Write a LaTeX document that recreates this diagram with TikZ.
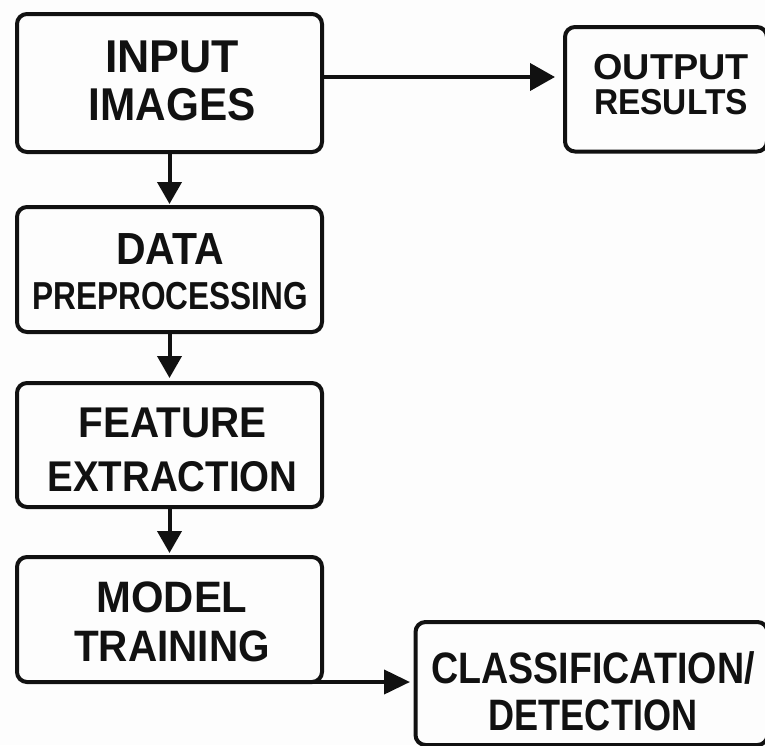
\documentclass[tikz,border=0pt]{standalone}
\usepackage{fontspec}
\setmainfont{Liberation Sans}
\usepackage{graphicx}
\usetikzlibrary{arrows.meta}
\definecolor{ink}{HTML}{111111}
\definecolor{paper}{HTML}{FDFDFD}
% horizontally condensed caption line
\newcommand\sx[2]{\scalebox{#1}[1]{#2}}
\begin{document}
\begin{tikzpicture}[x=1pt,y=-1pt,
  box/.style={draw=ink, line width=4pt, rounded corners=10pt, inner sep=0pt, outer sep=0pt},
  txt/.style={inner sep=0pt, outer sep=0pt, align=center, text=ink},
  flow/.style={draw=ink, line width=4pt, -{Triangle[length=22pt,width=24pt]}},
  side/.style={draw=ink, line width=4pt, -{Triangle[length=25pt,width=27pt]}},
]
\fill[paper] (0,0) rectangle (765,745);
\useasboundingbox (0,0) rectangle (765,745);

% process boxes
\node[box, minimum width=305pt, minimum height=138pt] (inp) at (169.5,83) {};
\node[box, minimum width=202pt, minimum height=124.5pt] (out) at (666,89.25) {};
\node[box, minimum width=305pt, minimum height=125pt] (pre) at (169.5,269.5) {};
\node[box, minimum width=305pt, minimum height=124pt] (fea) at (169.5,445) {};
\node[box, minimum width=305pt, minimum height=125pt] (mod) at (169.5,619.5) {};
\node[box, minimum width=352pt, minimum height=123pt] (cls) at (591.5,683.5) {};

% box captions
\node[txt, font=\bfseries\fontsize{46}{48.5}\selectfont] (inpT) at (172,81)
  {\sx{0.97}{INPUT}\\\sx{0.92}{IMAGES}};
\node[txt, font=\bfseries\fontsize{36}{35}\selectfont] (outT) at (671,85)
  {\sx{1.05}{OUTPUT}\\\sx{0.93}{RESULTS}};
\node[txt, font=\bfseries\fontsize{39}{45}\selectfont] (preT) at (170,271.5)
  {{\fontsize{45}{45}\selectfont\sx{0.91}{DATA}}\\\sx{0.81}{PREPROCESSING}};
\node[txt, font=\bfseries\fontsize{43}{54}\selectfont] (feaT) at (172.5,450)
  {\sx{0.94}{FEATURE}\\\sx{0.895}{EXTRACTION}};
\node[txt, font=\bfseries\fontsize{44}{49}\selectfont] (modT) at (172,622)
  {\sx{0.95}{MODEL}\\\sx{0.92}{TRAINING}};
\node[txt, font=\bfseries\fontsize{44}{47}\selectfont] (clsT) at (593,691)
  {\sx{0.855}{CLASSIFICATION/}\\\sx{0.82}{DETECTION}};

% connectors
\coordinate (inpR) at ([yshift=6pt]inp.east);
\draw[side, shorten >=10pt] (inpR) -- (inpR -| out.west);
\draw[flow, shorten >=3pt] (inp.south) -- (pre.north);
\draw[flow, shorten >=5pt] (pre.south) -- (fea.north);
\draw[flow, shorten >=4pt] (fea.south) -- (mod.north);
\coordinate (modR) at ([xshift=-10pt]mod.south east);
\draw[draw=ink, line width=4pt, -{Triangle[length=26pt,width=24pt]}, shorten >=5.5pt]
  (modR) -- (modR -| cls.west);
\end{tikzpicture}
\end{document}
